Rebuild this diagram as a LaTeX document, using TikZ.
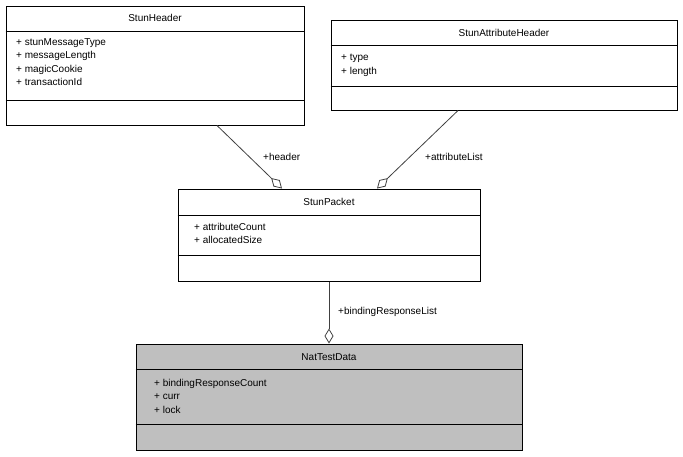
\documentclass[tikz,border=0pt]{standalone}
\usepackage{fontspec}
\setmainfont{Liberation Sans}
\usetikzlibrary{arrows.meta}

\tikzset{
    classbox/.style={draw, line width=1pt, inner sep=0pt},
    title/.style={font=\fontsize{10}{12}\selectfont},
    attrs/.style={anchor=north west, align=left, inner sep=0pt, font=\fontsize{10}{13.5}\selectfont},
    role/.style={anchor=west, inner sep=0pt, font=\fontsize{10}{12}\selectfont},
    aggr/.style={draw=black!75, line width=0.8pt, -{Diamond[open, length=15pt, width=9pt]}}
}

\begin{document}
\begin{tikzpicture}[x=1pt, y=-1pt]
    \useasboundingbox (0,0) rectangle (683,456);

    % class boxes
    \node[classbox, minimum width=298pt, minimum height=119pt] (hdr) at (155,65.5) {};
    \node[classbox, minimum width=346pt, minimum height=90pt] (att) at (504,65) {};
    \node[classbox, minimum width=302pt, minimum height=92pt] (pkt) at (329,235) {};
    \node[classbox, fill=gray!50, minimum width=386pt, minimum height=106pt] (nat) at (329,397) {};

    % compartment lines
    \foreach \b/\y in {hdr/31, hdr/100, att/45, att/86, pkt/215, pkt/255, nat/369, nat/424} {
        \draw[line width=1pt] (\b.west |- 0,\y) -- (\b.east |- 0,\y);
    }

    % names
    \node[title] (hdrName) at (hdr.north |- 0,18) {StunHeader};
    \node[title] (attName) at (att.north |- 0,33) {StunAttributeHeader};
    \node[title] (pktName) at (pkt.north |- 0,202) {StunPacket};
    \node[title] (natName) at (nat.north |- 0,357) {NatTestData};

    % attributes
    \node[attrs] (hdrAttr) at (16,38) {+ stunMessageType\\+ messageLength\\+ magicCookie\\+ transactionId};
    \node[attrs] (attAttr) at (341,54) {+ type\\+ length};
    \node[attrs] (pktAttr) at (194,223) {+ attributeCount\\+ allocatedSize};
    \node[attrs] (natAttr) at (154,379) {+ bindingResponseCount\\+ curr\\+ lock};

    % aggregations
    \draw[aggr] ([xshift=62pt]hdr.south) -- ([xshift=-47pt]pkt.north);
    \draw[aggr] ([xshift=-46pt]att.south) -- ([xshift=48pt]pkt.north);
    \draw[aggr] (pkt.south) -- (nat.north);

    \node[role] (lblHeader) at (263,157) {+header};
    \node[role] (lblAttr) at (425,157) {+attributeList};
    \node[role] (lblBinding) at (338,312) {+bindingResponseList};

\end{tikzpicture}
\end{document}
